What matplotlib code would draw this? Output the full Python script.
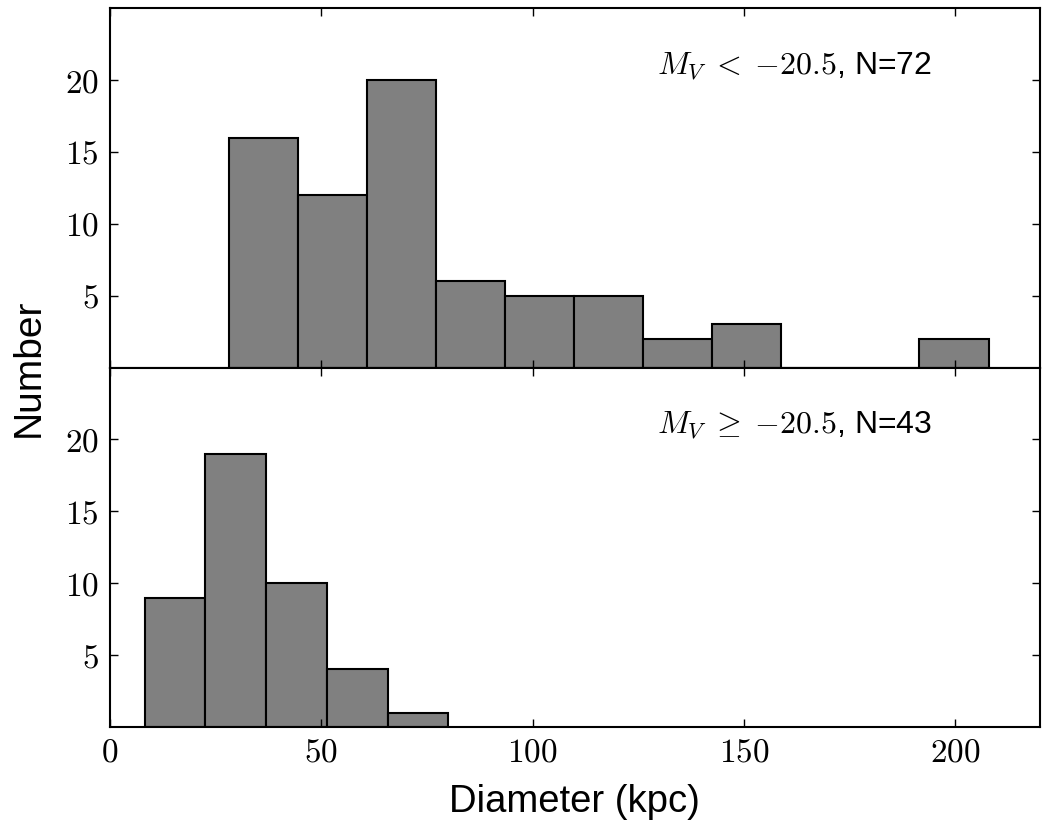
import numpy as np
import matplotlib.pyplot as plt
from matplotlib.ticker import FuncFormatter

plt.rcParams['mathtext.fontset'] = 'cm'
plt.rcParams['font.family'] = ['Liberation Sans', 'DejaVu Sans']

# histogram bins (kpc) and counts
bright_edges = [28.2, 44.5, 60.9, 77.2, 93.5, 109.9, 126.2, 142.5, 158.9, 175.2, 191.5, 207.9]
bright_counts = [16, 12, 20, 6, 5, 5, 2, 3, 0, 0, 2]
faint_edges = [8.3, 22.6, 37.0, 51.3, 65.7, 80.0]
faint_counts = [9, 19, 10, 4, 1]

labels = [r'$M_V\; <\; {-}20.5$, N=72', r'$M_V\; \geq\; {-}20.5$, N=43']

fig, axes = plt.subplots(2, 1, figsize=(10.47, 8.26), dpi=100, sharex=True)
fig.subplots_adjust(left=0.105, right=0.993, top=0.99, bottom=0.12, hspace=0)

math_fmt = FuncFormatter(lambda v, p: r'$%d$' % v)

for ax, edges, counts, lab in zip(axes, [bright_edges, faint_edges],
                                  [bright_counts, faint_counts], labels):
    edges = np.array(edges)
    ax.bar(edges[:-1], counts, width=np.diff(edges), align='edge',
           color='#808080', edgecolor='black', linewidth=1.5)
    ax.set_xlim(0, 220)
    ax.set_ylim(0, 25)
    ax.set_yticks([5, 10, 15, 20])
    ax.set_xticks([0, 50, 100, 150, 200])
    ax.yaxis.set_major_formatter(math_fmt)
    ax.xaxis.set_major_formatter(math_fmt)
    ax.tick_params(direction='in', top=True, right=True, length=6, width=1,
                   labelsize=24, pad=8)
    for s in ax.spines.values():
        s.set_linewidth(1.5)
    ax.text(129.5, 21, lab, fontsize=23, va='center', ha='left')

axes[1].set_xlabel('Diameter (kpc)', fontsize=27.5, labelpad=11)
fig.text(0.027, 0.555, 'Number', rotation=90, fontsize=28, va='center', ha='center')

fig.savefig('out.png', dpi=100)
